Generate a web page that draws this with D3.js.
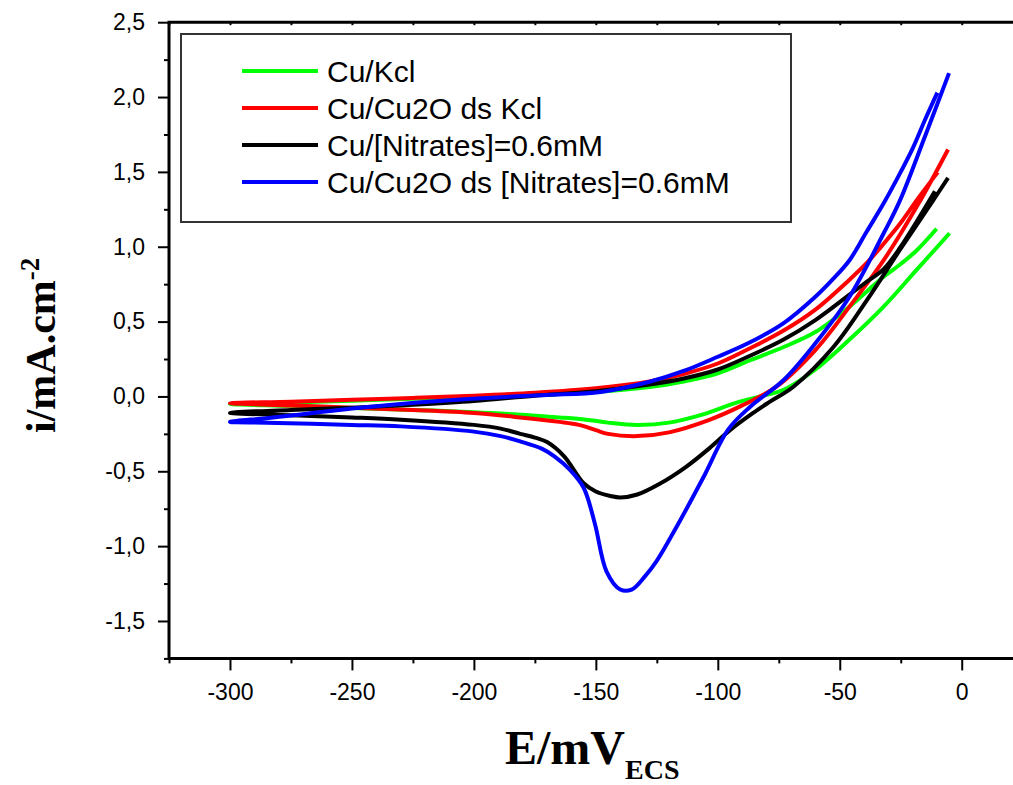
<!DOCTYPE html>
<html>
<head>
<meta charset="utf-8">
<script src="https://cdn.jsdelivr.net/npm/d3@7"></script>
<style>
  html, body { margin: 0; padding: 0; background: #fff; }
  svg { display: block; }
</style>
</head>
<body>
<div id="chart"></div>
<script>
// ---------- DATA ----------
const seriesNames = ["Cu/Kcl", "Cu/Cu2O ds Kcl", "Cu/[Nitrates]=0.6mM", "Cu/Cu2O ds [Nitrates]=0.6mM"];

// Each series: [E (mV), i (mA/cm2)] following the sweep (upper branch from the right end to -300, then lower branch back)
const cuKcl = [
  [-10.3,1.12],[-18.5,0.975],[-25,0.885],[-32,0.80],[-39,0.70],[-46,0.60],[-60,0.43],[-73,0.33],[-87,0.24],[-100,0.155],
  [-114,0.10],[-128,0.063],[-150,0.03],[-175,0.01],[-200,-0.005],[-225,-0.015],[-250,-0.028],[-275,-0.04],[-300,-0.05],
  [-275,-0.063],[-250,-0.077],[-225,-0.09],[-200,-0.105],[-181,-0.122],[-165,-0.14],[-154,-0.155],[-145,-0.175],[-133,-0.19],
  [-120,-0.175],[-106,-0.12],[-92,-0.04],[-80,0.01],[-73,0.045],[-60,0.18],[-46,0.38],[-32,0.60],[-18.5,0.845],[-5,1.09]
];
const cuCu2oKcl = [
  [-9.7,1.50],[-18.5,1.31],[-25,1.16],[-32,1.02],[-39,0.89],[-46,0.78],[-60,0.58],[-73,0.44],[-87,0.32],[-100,0.22],
  [-114,0.15],[-128,0.10],[-150,0.055],[-175,0.025],[-200,0.005],[-225,-0.01],[-250,-0.022],[-275,-0.035],[-300,-0.045],
  [-275,-0.06],[-250,-0.075],[-225,-0.09],[-200,-0.11],[-181,-0.14],[-165,-0.17],[-157,-0.19],[-150,-0.225],[-145,-0.25],
  [-133,-0.265],[-120,-0.24],[-104,-0.16],[-90,-0.06],[-76,0.065],[-60,0.31],[-46,0.60],[-32,0.91],[-18,1.28],[-5.6,1.65]
];
const cuNitrates = [
  [-11,1.37],[-18,1.18],[-25,1.00],[-32,0.85],[-39,0.765],[-46,0.68],[-60,0.51],[-73,0.38],[-87,0.27],[-100,0.18],
  [-114,0.12],[-128,0.08],[-150,0.035],[-175,0.005],[-200,-0.03],[-225,-0.055],[-250,-0.075],[-275,-0.09],[-300,-0.11],
  [-275,-0.125],[-250,-0.14],[-230,-0.155],[-200,-0.19],[-189,-0.215],[-181,-0.25],[-175,-0.275],[-170,-0.305],[-163,-0.40],
  [-155,-0.58],[-150,-0.635],[-144,-0.665],[-140,-0.675],[-133,-0.655],[-124,-0.585],[-113,-0.47],[-103,-0.34],[-95,-0.225],
  [-85.5,-0.11],[-78.6,-0.035],[-69,0.065],[-52.6,0.33],[-39,0.64],[-25.3,0.98],[-11.7,1.31],[-5.6,1.46]
];
const cuCu2oNitrates = [
  [-10,2.03],[-15,1.85],[-20,1.66],[-25,1.50],[-32,1.29],[-39,1.10],[-46,0.91],[-53,0.78],[-60,0.666],[-73,0.49],
  [-87,0.36],[-100,0.265],[-114,0.17],[-128,0.098],[-148,0.03],[-170,0.01],[-189,-0.005],[-210,-0.025],[-230,-0.05],
  [-250,-0.08],[-271,-0.12],[-285,-0.145],[-300,-0.17],
  [-285,-0.175],[-250,-0.19],[-230,-0.20],[-200,-0.235],[-189,-0.265],[-181,-0.30],[-172,-0.35],[-167,-0.40],[-160.6,-0.49],
  [-155,-0.61],[-150.4,-0.85],[-145.6,-1.17],[-140,-1.29],[-135.3,-1.29],[-129.8,-1.20],[-125.1,-1.10],[-115.5,-0.83],
  [-105.9,-0.54],[-95.7,-0.22],[-86.8,-0.07],[-73,0.11],[-60,0.355],[-46,0.666],[-32,1.09],[-25.3,1.31],[-15,1.74],[-5.2,2.16]
];
const seriesData = [cuKcl, cuCu2oKcl, cuNitrates, cuCu2oNitrates];

const xMajorTicks = [-300, -250, -200, -150, -100, -50, 0];
const xMinorTicks = [-325, -275, -225, -175, -125, -75, -25, 25];
const yMajorTicks = [-1.5, -1.0, -0.5, 0.0, 0.5, 1.0, 1.5, 2.0, 2.5];
const yMinorTicks = [-1.75, -1.25, -0.75, -0.25, 0.25, 0.75, 1.25, 1.75, 2.25];

// ---------- STYLE ----------
const colors = ["#00ff00", "#ff0000", "#000000", "#0000ff"];
const W = 1013, H = 785;

const svg = d3.select("#chart").append("svg")
  .attr("width", W).attr("height", H)
  .style("font-family", "'Liberation Sans', Arial, sans-serif");

const x = d3.scaleLinear().domain([-325, 25]).range([169, 1022.7]);
const y = d3.scaleLinear().domain([-1.75, 2.5]).range([658.4, 22.2]);

const fmtY = d => d.toFixed(1).replace(".", ",");
const fmtX = d => String(d);

// Curves
const smooth = d3.line().x(d => x(d[0])).y(d => y(d[1])).curve(d3.curveCatmullRom.alpha(0.5));

svg.append("g").selectAll("path")
  .data(seriesData)
  .join("path")
  .attr("d", d => smooth(d))
  .attr("fill", "none")
  .attr("stroke", (d, i) => colors[i])
  .attr("stroke-width", 4)
  .attr("stroke-linejoin", "round")
  .attr("stroke-linecap", "butt");

// Axes
const axisColor = "#000";
const yBase = y(-1.75), xBase = x(-325), yTop = y(2.5);

// bottom
const gB = svg.append("g").attr("transform", `translate(0,${yBase})`);
gB.call(d3.axisBottom(x).tickValues(xMajorTicks).tickSize(12).tickPadding(13).tickFormat(fmtX));
gB.append("g").call(d3.axisBottom(x).tickValues(xMinorTicks).tickSize(5).tickFormat(""));
// top
const gT = svg.append("g").attr("transform", `translate(0,${yTop})`);
gT.call(d3.axisBottom(x).tickValues(xMajorTicks.concat(xMinorTicks)).tickSize(3).tickFormat(""));
// left
const gL = svg.append("g").attr("transform", `translate(${xBase},0)`);
gL.call(d3.axisLeft(y).tickValues(yMajorTicks).tickSize(11).tickPadding(13).tickFormat(fmtY));
gL.append("g").call(d3.axisLeft(y).tickValues(yMinorTicks).tickSize(5).tickFormat(""));

svg.selectAll(".domain").remove();
svg.selectAll(".tick line").attr("stroke", axisColor).attr("stroke-width", 2);
svg.selectAll(".tick text").attr("fill", "#000").style("font-size", "23px")
  .style("font-family", "'Liberation Sans', Arial, sans-serif");

// axis lines
svg.append("line").attr("x1", xBase).attr("x2", W).attr("y1", yBase).attr("y2", yBase)
  .attr("stroke", axisColor).attr("stroke-width", 3);
svg.append("line").attr("x1", xBase - 1.5).attr("x2", W).attr("y1", yTop).attr("y2", yTop)
  .attr("stroke", axisColor).attr("stroke-width", 3);
svg.append("line").attr("x1", xBase).attr("x2", xBase).attr("y1", yTop).attr("y2", yBase + 1.5)
  .attr("stroke", axisColor).attr("stroke-width", 3);

// Legend
const lg = svg.append("g");
lg.append("rect").attr("x", 181).attr("y", 34).attr("width", 610).attr("height", 188)
  .attr("fill", "#fff").attr("stroke", "#333").attr("stroke-width", 2);
const rows = lg.selectAll("g.row").data(seriesNames).join("g").attr("class", "row")
  .attr("transform", (d, i) => `translate(0,${71 + i * 37})`);
rows.append("line").attr("x1", 242).attr("x2", 318).attr("y1", 0).attr("y2", 0)
  .attr("stroke", (d, i) => colors[i]).attr("stroke-width", 4);
rows.append("text").attr("x", 327).attr("y", 11).text(d => d)
  .style("font-size", "30px").attr("fill", "#000");

// Axis titles
const xt = svg.append("text").attr("x", 505).attr("y", 764)
  .style("font-family", "'Liberation Serif', 'Times New Roman', serif")
  .style("font-weight", "bold").style("font-size", "48px").attr("fill", "#000");
xt.append("tspan").text("E/mV");
xt.append("tspan").attr("dy", 15).style("font-size", "28px").text("ECS");

const yt = svg.append("text").attr("transform", "translate(55,433) rotate(-90)")
  .style("font-family", "'Liberation Serif', 'Times New Roman', serif")
  .style("font-weight", "bold").style("font-size", "42px").attr("fill", "#000");
yt.append("tspan").text("i/mA.cm");
yt.append("tspan").attr("dy", -16).style("font-size", "27px").text("-2");
</script>
</body>
</html>
